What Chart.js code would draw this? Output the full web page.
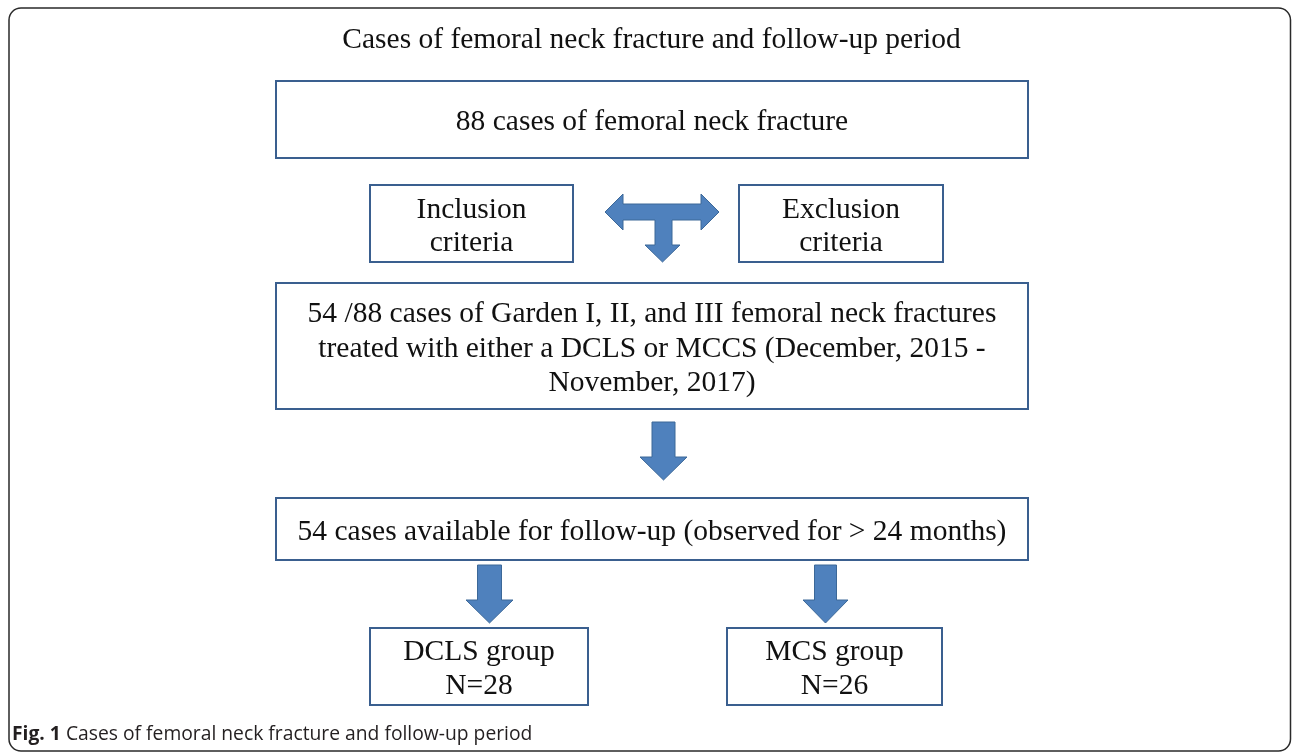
<!DOCTYPE html>
<html>
<head>
<meta charset="utf-8">
<script src="https://cdn.jsdelivr.net/npm/chart.js@4.4.1/dist/chart.umd.min.js"></script>
<style>
  html, body { margin: 0; padding: 0; background: #fff; }
  canvas { display: block; }
</style>
</head>
<body>
<canvas id="flow" width="1292" height="753"></canvas>
<script>
// flow chart data
const titleText = "Cases of femoral neck fracture and follow-up period";
const totalCases = 88;
const includedCases = 54;
const followUpCases = 54;
const minMonths = 24;
const criteriaLabels = ["Inclusion criteria", "Exclusion criteria"];
const gardenTypes = ["I", "II", "III"];
const methods = ["DCLS", "MCCS"];
const periodBounds = ["December, 2015", "November, 2017"];
const groupNames = ["DCLS group", "MCS group"];
const groupCounts = [28, 26];
const captionLabel = "Fig. 1";
const captionText = "Cases of femoral neck fracture and follow-up period";

// box texts built from the data
const boxTexts = {
  total: [`${totalCases} cases of femoral neck fracture`],
  incl: criteriaLabels[0].split(" "),
  excl: criteriaLabels[1].split(" "),
  garden: [
    `${includedCases} /${totalCases} cases of Garden ${gardenTypes[0]}, ${gardenTypes[1]}, and ${gardenTypes[2]} femoral neck fractures`,
    `treated with either a ${methods[0]} or ${methods[1]} (${periodBounds[0]} -`,
    `${periodBounds[1]})`,
  ],
  follow: [`${followUpCases} cases available for follow-up (observed for > ${minMonths} months)`],
  g0: [groupNames[0], `N=${groupCounts[0]}`],
  g1: [groupNames[1], `N=${groupCounts[1]}`],
};

// layout (in scale units == page pixels)
const boxes = [
  { key: "total", x0: 276, x1: 1028, y0: 81, y1: 158, gap: 34 },
  { key: "incl", x0: 370, x1: 573, y0: 185, y1: 262, gap: 33 },
  { key: "excl", x0: 739, x1: 943, y0: 185, y1: 262, gap: 33 },
  { key: "garden", x0: 276, x1: 1028, y0: 283, y1: 409, gap: 34.5 },
  { key: "follow", x0: 276, x1: 1028, y0: 498, y1: 560, gap: 34 },
  { key: "g0", x0: 370, x1: 588, y0: 628, y1: 705, gap: 34 },
  { key: "g1", x0: 727, x1: 942, y0: 628, y1: 705, gap: 34 },
];

const downArrows = [
  { cx: 663.5, top: 422, neck: 457, tip: 480, shaft: 23, head: 47 },
  { cx: 489.5, top: 565, neck: 600, tip: 623, shaft: 24, head: 47 },
  { cx: 825.5, top: 565, neck: 600, tip: 623, shaft: 22, head: 45 },
];

const serif = '"Liberation Serif", "Times New Roman", serif';

const flowPlugin = {
  id: "flow",
  afterDraw(chart) {
    const ctx = chart.ctx;
    const X = (v) => chart.scales.x.getPixelForValue(v);
    const Y = (v) => chart.scales.y.getPixelForValue(v);

    ctx.save();

    // outer frame
    ctx.strokeStyle = "#2a2a2a";
    ctx.lineWidth = 1.5;
    ctx.beginPath();
    ctx.roundRect(X(9), Y(8), X(1290.5) - X(9), Y(751) - Y(8), 12);
    ctx.stroke();

    // title
    ctx.fillStyle = "#111";
    ctx.font = `29.5px ${serif}`;
    ctx.textAlign = "center";
    ctx.textBaseline = "middle";
    ctx.fillText(titleText, X(651.5), Y(40));

    // boxes
    boxes.forEach((b) => {
      ctx.strokeStyle = "#3a5f8f";
      ctx.lineWidth = 2;
      ctx.strokeRect(X(b.x0), Y(b.y0), X(b.x1) - X(b.x0), Y(b.y1) - Y(b.y0));
      const lines = boxTexts[b.key];
      const cx = (b.x0 + b.x1) / 2;
      const cy = (b.y0 + b.y1) / 2 + 3;
      ctx.fillStyle = "#111";
      ctx.font = `29.5px ${serif}`;
      lines.forEach((t, i) => {
        const yy = cy + (i - (lines.length - 1) / 2) * b.gap;
        ctx.fillText(t, X(cx), Y(yy));
      });
    });

    // arrows
    ctx.fillStyle = "#4f81bd";
    ctx.strokeStyle = "#3c6898";
    ctx.lineWidth = 1;
    ctx.lineJoin = "miter";

    const poly = (pts) => {
      ctx.beginPath();
      pts.forEach(([px, py], i) => (i ? ctx.lineTo(X(px), Y(py)) : ctx.moveTo(X(px), Y(py))));
      ctx.closePath();
      ctx.fill();
      ctx.stroke();
    };

    downArrows.forEach((a) => {
      const s = a.shaft / 2, h = a.head / 2;
      poly([
        [a.cx - s, a.top], [a.cx + s, a.top], [a.cx + s, a.neck], [a.cx + h, a.neck],
        [a.cx, a.tip], [a.cx - h, a.neck], [a.cx - s, a.neck],
      ]);
    });

    // T shaped arrow between the criteria boxes
    poly([
      [605, 212], [623, 194], [623, 204], [701, 204], [701, 194], [719, 212],
      [701, 230], [701, 220], [672, 220], [672, 245], [680, 245], [662.5, 262],
      [645, 245], [655, 245], [655, 220], [623, 220], [623, 230],
    ]);

    // caption
    ctx.textAlign = "left";
    ctx.textBaseline = "alphabetic";
    ctx.fillStyle = "#231f20";
    ctx.font = 'bold 19.3px "Open Sans", sans-serif';
    ctx.fillText(captionLabel, X(12), Y(740));
    const w = ctx.measureText(captionLabel + " ").width;
    ctx.font = '19.3px "Open Sans", sans-serif';
    ctx.fillText(captionText, X(12) + w, Y(740));

    ctx.restore();
  },
};

new Chart(document.getElementById("flow"), {
  type: "scatter",
  data: { datasets: [{ data: [] }] },
  options: {
    responsive: false,
    animation: false,
    layout: { padding: 0 },
    plugins: { legend: { display: false }, tooltip: { enabled: false } },
    scales: {
      x: { type: "linear", min: 0, max: 1292, display: false },
      y: { type: "linear", min: 0, max: 753, reverse: true, display: false },
    },
  },
  plugins: [flowPlugin],
});
</script>
</body>
</html>
